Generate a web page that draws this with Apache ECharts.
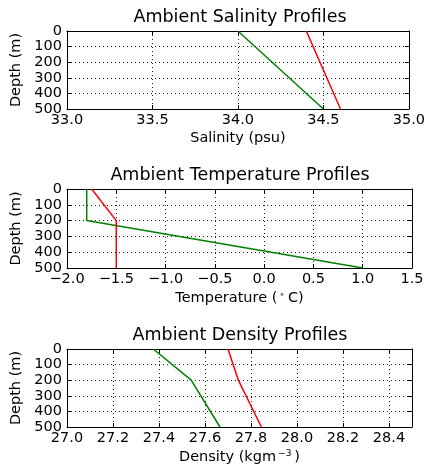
<!DOCTYPE html>
<html>
<head>
<meta charset="utf-8">
<script src="https://cdn.jsdelivr.net/npm/echarts@6/dist/echarts.min.js"></script>
<style>
html,body{margin:0;padding:0;background:#fff;}
#chart{width:428px;height:470px;}
</style>
</head>
<body>
<div id="chart"></div>
<script>
// ---- data ----
const depthTicks = [0, 100, 200, 300, 400, 500];

const salDepthGreen = [0, 500];
const salGreen = [34.0, 34.5];
const salDepthRed = [0, 500];
const salRed = [34.4, 34.6];

const tempDepthGreen = [0, 200, 500];
const tempGreen = [-1.8, -1.8, 1.0];
const tempDepthRed = [0, 200, 500];
const tempRed = [-1.75, -1.5, -1.5];

const densDepthGreen = [0, 200, 500];
const densGreen = [27.375, 27.54, 27.665];
const densDepthRed = [0, 200, 500];
const densRed = [27.70, 27.745, 27.845];

const titles = ['Ambient Salinity Profiles', 'Ambient Temperature Profiles', 'Ambient Density Profiles'];
const xRanges = [[33.0, 35.0, 0.5], [-2.0, 1.5, 0.5], [27.0, 28.5, 0.2]];

// ---- layout / style ----
const FONT = 'DejaVu Sans';
const gridTops = [31, 189, 349];
const gridHeights = [78, 79, 78];
const titleTops = [8, 166, 326];
const GREEN = '#008000', RED = '#ff0000';

function pair(xs, ds) { return xs.map((v, i) => [v, ds[i]]); }
function fmtNum(v) {
  const s = Math.abs(v).toFixed(1);
  return (v < -1e-9 ? '\u2212' : '') + s;
}

const grids = [], xAxes = [], yAxes = [], series = [], title = [];
const xNames = [
  'Salinity (psu)',
  '{n|Temperature (}{s|\u2218}{n|C)}',
  '{n|Density (kgm}{s|\u22123}{n|)}'
];

for (let i = 0; i < 3; i++) {
  grids.push({left: 67, right: 16, top: gridTops[i], height: gridHeights[i]});
  title.push({
    text: titles[i], left: 240, top: titleTops[i], textAlign: 'center', padding: 0,
    textStyle: {fontFamily: FONT, fontSize: 17.5, fontWeight: 'normal', color: '#000'}
  });
  const [mn, mx, step] = xRanges[i];
  const common = {
    type: 'value', gridIndex: i, min: mn, max: mx, interval: step,
    axisLine: {show: true, onZero: false, lineStyle: {color: '#000', width: 1}},
    axisTick: {show: true, inside: true, length: 4, lineStyle: {color: '#000'}}
  };
  xAxes.push(Object.assign({}, common, {
    position: 'bottom',
    name: xNames[i], nameLocation: 'middle', nameGap: 22,
    nameTextStyle: {fontFamily: FONT, fontSize: 14.5, color: '#000',
      rich: {n: {fontFamily: FONT, fontSize: 14.5, color: '#000'},
             s: {fontFamily: FONT, fontSize: 9, color: '#000', verticalAlign: 'top', padding: [0, 3, 8, 2]}}},
    axisLabel: {show: true, margin: 4, fontFamily: FONT, fontSize: 14.5, color: '#000',
      showMaxLabel: i !== 2 ? true : false,
      formatter: v => fmtNum(v)},
    splitLine: {show: true, lineStyle: {color: '#222', width: 1, type: [1, 3]}}
  }));
  xAxes.push(Object.assign({}, common, {
    position: 'top', axisLabel: {show: false}, splitLine: {show: false}
  }));
  const ycommon = {
    type: 'value', gridIndex: i, min: 0, max: 500, interval: 100, inverse: true,
    axisLine: {show: true, onZero: false, lineStyle: {color: '#000', width: 1}},
    axisTick: {show: true, inside: true, length: 4, lineStyle: {color: '#000'}}
  };
  yAxes.push(Object.assign({}, ycommon, {
    position: 'left',
    name: 'Depth (m)', nameLocation: 'middle', nameGap: 39,
    nameTextStyle: {fontFamily: FONT, fontSize: 14.5, color: '#000'},
    axisLabel: {show: true, margin: 5, fontFamily: FONT, fontSize: 14.5, color: '#000'},
    splitLine: {show: true, lineStyle: {color: '#222', width: 1, type: [1, 3]}}
  }));
  yAxes.push(Object.assign({}, ycommon, {
    position: 'right', axisLabel: {show: false}, splitLine: {show: false}
  }));
}

const lineData = [
  [pair(salGreen, salDepthGreen), pair(salRed, salDepthRed)],
  [pair(tempGreen, tempDepthGreen), pair(tempRed, tempDepthRed)],
  [pair(densGreen, densDepthGreen), pair(densRed, densDepthRed)]
];
for (let i = 0; i < 3; i++) {
  [GREEN, RED].forEach((c, k) => {
    series.push({
      type: 'line', xAxisIndex: 2 * i, yAxisIndex: 2 * i, data: lineData[i][k],
      showSymbol: false, symbol: 'none', clip: true, animation: false,
      lineStyle: {color: c, width: 1.5}, itemStyle: {color: c}
    });
  });
}

const chart = echarts.init(document.getElementById('chart'), null, {renderer: 'canvas'});
chart.setOption({
  animation: false, backgroundColor: '#fff',
  title, grid: grids, xAxis: xAxes, yAxis: yAxes, series
});
</script>
</body>
</html>
